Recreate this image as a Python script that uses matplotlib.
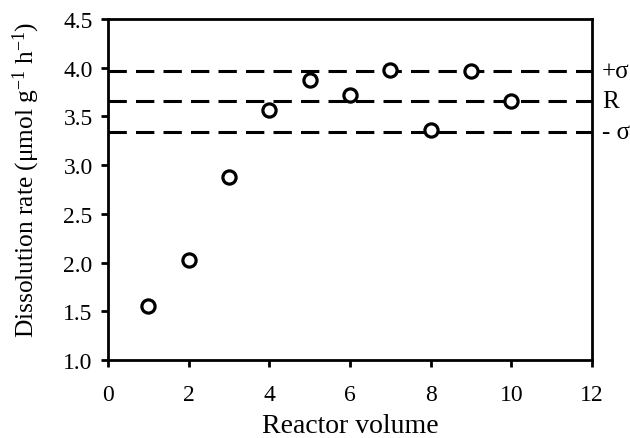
import matplotlib
matplotlib.use("Agg")
import matplotlib.pyplot as plt

reactor_volume = [1, 2, 3, 4, 5, 6, 7, 8, 9, 10]
dissolution_rate = [1.55, 2.03, 2.88, 3.57, 3.87, 3.72, 3.98, 3.36, 3.97, 3.66]
ref_levels = [3.97, 3.66, 3.34]
ref_labels = ["+σ", "R", "- σ"]
x_ticks = [0, 2, 4, 6, 8, 10, 12]
y_ticks = [1.0, 1.5, 2.0, 2.5, 3.0, 3.5, 4.0, 4.5]

plt.rcParams['font.family'] = ['Liberation Serif', 'DejaVu Serif']
plt.rcParams['mathtext.fontset'] = 'custom'
plt.rcParams['mathtext.rm'] = 'Liberation Serif'
plt.rcParams['mathtext.it'] = 'Liberation Serif:italic'

fig = plt.figure(figsize=(6.3, 4.39), dpi=100)
ax = fig.add_axes([108/630, 1-361/439, (592-108)/630, (361-20)/439])

for lvl in ref_levels:
    ax.axhline(lvl, color='black', lw=2.2, dashes=(6, 3), zorder=1)

ax.plot(reactor_volume, dissolution_rate, 'o', mfc='white', mec='black',
        ms=9.5, mew=2.3, zorder=3)

ax.set_xlim(0, 12)
ax.set_ylim(1.0, 4.5)
ax.set_xticks(x_ticks)
ax.set_yticks(y_ticks)
ax.set_yticklabels([f"{v:.1f}" for v in y_ticks])
ax.tick_params(axis='both', direction='out', length=5, width=2, labelsize=17,
               top=False, right=False)
ax.tick_params(axis='x', pad=12)
ax.tick_params(axis='y', pad=6)
for s in ax.spines.values():
    s.set_linewidth(2)

for lvl, lab in zip(ref_levels, ref_labels):
    ax.text(12.25, lvl, lab, ha='left', va='center', fontsize=18,
            transform=ax.transData, clip_on=False)

ax.set_xlabel("Reactor volume", fontsize=20)
ax.xaxis.set_label_coords(0.5, -0.155)
ax.set_ylabel(r"Dissolution rate (μmol g$^{\mathregular{-1}}$ h$^{\mathregular{-1}}$)",
              fontsize=18.3)
ax.yaxis.set_label_coords(-0.137, 0.53)

fig.savefig("out.png", dpi=100)
